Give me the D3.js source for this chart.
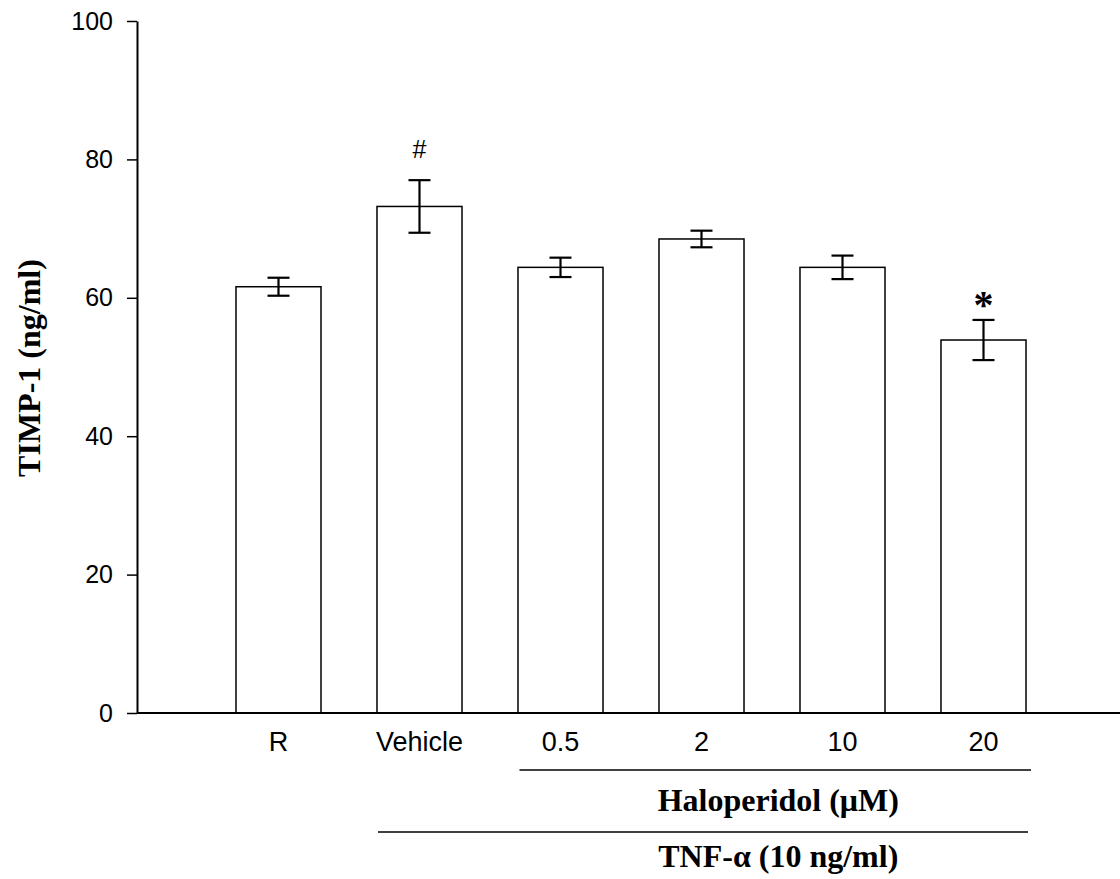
<!DOCTYPE html>
<html>
<head>
<meta charset="utf-8">
<script src="https://cdn.jsdelivr.net/npm/d3@7"></script>
<style>
  html, body { margin: 0; padding: 0; background: #fff; }
  svg { display: block; }
</style>
</head>
<body>
<svg id="chart" width="1120" height="879"></svg>
<script>
// TIMP-1 secretion by treatment group
const categories = ["R", "Vehicle", "0.5", "2", "10", "20"];
const means = [61.6, 73.2, 64.4, 68.5, 64.4, 53.9];
const sems = [1.3, 3.8, 1.4, 1.2, 1.7, 2.9];
const marks = ["", "#", "", "", "", "*"];
const yTicks = [0, 20, 40, 60, 80, 100];

const svg = d3.select("#chart");

const x = d3.scaleBand()
  .domain(categories)
  .range([208, 1054])
  .paddingInner(0.397)
  .paddingOuter(0.1985);

const y = d3.scaleLinear().domain([0, 100]).range([713, 21]);

const axisX = 137;

// y axis
const yAxis = svg.append("g")
  .attr("transform", `translate(${axisX},0)`)
  .call(d3.axisLeft(y).tickValues(yTicks).tickSize(10).tickPadding(14).tickSizeOuter(0));
yAxis.select(".domain").attr("stroke", "#000").attr("stroke-width", 2);
yAxis.selectAll(".tick line").attr("stroke", "#000").attr("stroke-width", 1.5);
yAxis.selectAll(".tick text")
  .attr("fill", "#000")
  .style("font-family", "Arial, 'Liberation Sans', sans-serif")
  .style("font-size", "25px");

// bars
svg.append("g").selectAll("rect")
  .data(categories)
  .join("rect")
  .attr("x", d => x(d))
  .attr("width", x.bandwidth())
  .attr("y", (d, i) => y(means[i]))
  .attr("height", (d, i) => y(0) - y(means[i]))
  .attr("fill", "#fff")
  .attr("stroke", "#000")
  .attr("stroke-width", 1.5);

// error bars
const capHalf = 11;
const eb = svg.append("g").attr("stroke", "#000").attr("stroke-width", 2.2);
categories.forEach((c, i) => {
  const cx = x(c) + x.bandwidth() / 2;
  const top = y(means[i] + sems[i]);
  const bot = y(means[i] - sems[i]);
  eb.append("line").attr("x1", cx).attr("x2", cx).attr("y1", top).attr("y2", bot);
  eb.append("line").attr("x1", cx - capHalf).attr("x2", cx + capHalf).attr("y1", top).attr("y2", top);
  eb.append("line").attr("x1", cx - capHalf).attr("x2", cx + capHalf).attr("y1", bot).attr("y2", bot);
});

// significance marks
categories.forEach((c, i) => {
  if (!marks[i]) return;
  const cx = x(c) + x.bandwidth() / 2;
  const top = y(means[i] + sems[i]);
  if (marks[i] === "#") {
    svg.append("text")
      .attr("x", cx).attr("y", top - 22)
      .attr("text-anchor", "middle")
      .style("font-family", "Arial, 'Liberation Sans', sans-serif")
      .style("font-size", "25px")
      .text("#");
  } else {
    svg.append("text")
      .attr("x", cx).attr("y", top - 2)
      .attr("text-anchor", "middle")
      .style("font-family", "'Liberation Serif', 'Times New Roman', serif")
      .style("font-weight", "bold")
      .style("font-size", "40px")
      .text("*");
  }
});

// x axis
svg.append("line")
  .attr("x1", axisX).attr("x2", 1120)
  .attr("y1", y(0)).attr("y2", y(0))
  .attr("stroke", "#000").attr("stroke-width", 2);

svg.append("g").selectAll("text")
  .data(categories)
  .join("text")
  .attr("x", d => x(d) + x.bandwidth() / 2)
  .attr("y", 751)
  .attr("text-anchor", "middle")
  .style("font-family", "Arial, 'Liberation Sans', sans-serif")
  .style("font-size", "27px")
  .text(d => d);

// grouping brackets
const haloL = x("0.5") + 1.5, haloR = x("20") + x.bandwidth() + 5;
const tnfL = x("Vehicle") + 1, tnfR = x("20") + x.bandwidth() + 2;
svg.append("line").attr("x1", haloL).attr("x2", haloR).attr("y1", 770).attr("y2", 770)
  .attr("stroke", "#000").attr("stroke-width", 1.5);
svg.append("line").attr("x1", tnfL).attr("x2", tnfR).attr("y1", 832).attr("y2", 832)
  .attr("stroke", "#000").attr("stroke-width", 1.5);

const labelX = (haloL + haloR) / 2 + 3;
svg.append("text")
  .attr("x", labelX).attr("y", 811)
  .attr("text-anchor", "middle")
  .style("font-family", "'Liberation Serif', 'Times New Roman', serif")
  .style("font-weight", "bold")
  .style("font-size", "32px")
  .text("Haloperidol (μM)");
svg.append("text")
  .attr("x", labelX).attr("y", 867)
  .attr("text-anchor", "middle")
  .style("font-family", "'Liberation Serif', 'Times New Roman', serif")
  .style("font-weight", "bold")
  .style("font-size", "32px")
  .text("TNF-α (10 ng/ml)");

// y axis title
svg.append("text")
  .attr("transform", "translate(40,368) rotate(-90)")
  .attr("text-anchor", "middle")
  .style("font-family", "'Liberation Serif', 'Times New Roman', serif")
  .style("font-weight", "bold")
  .style("font-size", "32px")
  .text("TIMP-1 (ng/ml)");
</script>
</body>
</html>
